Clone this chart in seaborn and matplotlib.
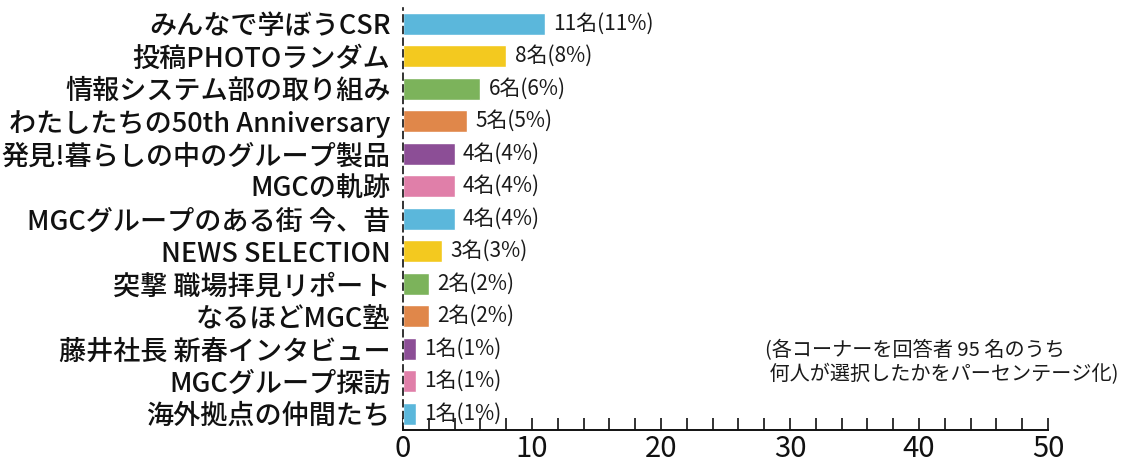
import matplotlib
matplotlib.use("Agg")
import matplotlib.pyplot as plt
import seaborn as sns
import pandas as pd
from matplotlib.ticker import MultipleLocator

categories = [
    "みんなで学ぼうCSR",
    "投稿PHOTOランダム",
    "情報システム部の取り組み",
    "わたしたちの50th Anniversary",
    "発見!暮らしの中のグループ製品",
    "MGCの軌跡",
    "MGCグループのある街 今、昔",
    "NEWS SELECTION",
    "突撃 職場拝見リポート",
    "なるほどMGC塾",
    "藤井社長 新春インタビュー",
    "MGCグループ探訪",
    "海外拠点の仲間たち",
]
counts = [11, 8, 6, 5, 4, 4, 4, 3, 2, 2, 1, 1, 1]
percents = [11, 8, 6, 5, 4, 4, 4, 3, 2, 2, 1, 1, 1]
bar_colors = ["#5BB7DB", "#F3C91F", "#7CB35B", "#E0874A", "#8C4E96", "#E07FA9",
              "#5BB7DB", "#F3C91F", "#7CB35B", "#E0874A", "#8C4E96", "#E07FA9",
              "#5BB7DB"]
note_text = "(各コーナーを回答者 95 名のうち\n 何人が選択したかをパーセンテージ化)"

sns.set_theme(style="white")
plt.rcParams['font.family'] = ['Noto Sans CJK JP', 'DejaVu Sans']

df = pd.DataFrame({"category": categories, "count": counts})

fig = plt.figure(figsize=(11.28, 4.63), dpi=100)
ax = fig.add_axes([403/1128, 1 - 430/463, (1048-403)/1128, (430-7.5)/463])

sns.barplot(data=df, x="count", y="category", hue="category", palette=bar_colors,
            orient="h", width=0.68, legend=False, ax=ax, saturation=1)

ax.set_xlim(0, 50)
ax.set_ylim(12.5, -0.5)
ax.set_xlabel("")
ax.set_ylabel("")

labels = [f"{c}名({p}%)" for c, p in zip(counts, percents)]
for i, cont in enumerate(ax.containers):
    ax.bar_label(cont, labels=[labels[i]], padding=6, fontsize=15, color="#1a1a1a")

for s in ["top", "right"]:
    ax.spines[s].set_visible(False)
ax.spines["left"].set_linestyle((0, (4, 3)))
ax.spines["left"].set_linewidth(1.2)
ax.spines["left"].set_color("#111111")
ax.spines["bottom"].set_linewidth(1.4)
ax.spines["bottom"].set_color("#111111")

ax.xaxis.set_major_locator(MultipleLocator(10))
ax.xaxis.set_minor_locator(MultipleLocator(2))
ax.tick_params(axis="x", which="both", direction="in", length=9, width=1.2, color="#111111",
               bottom=True, labelsize=21, pad=3, labelcolor="#111111")
ax.tick_params(axis="y", length=0, pad=9, labelsize=19.5, labelcolor="#111111")
for t in ax.get_yticklabels():
    t.set_fontweight("medium")

ax.text((765-403)/645, (430-340)/422.5, note_text, transform=ax.transAxes, fontsize=14.5,
        ha="left", va="top", color="#1a1a1a", linespacing=1.15)

fig.savefig("out.png", dpi=100)
